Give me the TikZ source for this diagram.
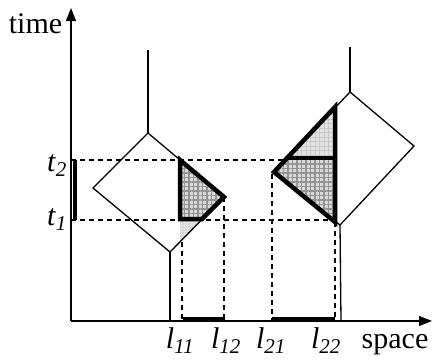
\documentclass[tikz,border=0pt]{standalone}
\usepackage{fontspec}
\setmainfont{Liberation Serif}
\usetikzlibrary{arrows.meta,patterns.meta}

\begin{document}
\begin{tikzpicture}[x=1pt, y=-1pt,
  axis/.style={line width=1.3pt, -{Triangle[length=13pt,width=10pt]}},
  edge/.style={line width=1.3pt},
  guide/.style={line width=1.1pt, dash pattern=on 5pt off 4pt},
  bound/.style={line width=4.5pt, line join=miter},
  bar/.style={line width=4pt},
  dense/.style={preaction={fill=gray!30},
                pattern={Hatch[distance=4.5pt, line width=1.1pt]}, pattern color=gray!85},
  faint/.style={preaction={fill=gray!22},
                pattern={Hatch[distance=4.5pt, line width=0.5pt]}, pattern color=gray!45},
  dotted fill/.style={preaction={fill=gray!20},
                pattern={Dots[distance=3pt, radius=0.6pt]}, pattern color=gray!70},
  lbl/.style={font=\fontsize{30}{36}\selectfont, inner sep=0pt, anchor=base}
]
  \useasboundingbox (0,0) rectangle (433,362);

  % axes
  \coordinate (O) at (71,321);
  \coordinate (ttop) at (71,8);
  \coordinate (sright) at (432,321);

  % first cell
  \coordinate (A1) at (148,133);
  \coordinate (B1) at (224,197);
  \coordinate (C1) at (170,252);
  \coordinate (D1) at (93,188);
  \coordinate (A1up) at (148,50);
  \coordinate (C1down) at (170,321);
  \coordinate (P1) at (180,160);
  \coordinate (Q1) at (202,219);
  \coordinate (R1) at (180,219);
  \coordinate (S1) at (180,242);

  % second cell
  \coordinate (A2) at (350,92);
  \coordinate (B2) at (414,146);
  \coordinate (C2) at (340,225);
  \coordinate (D2) at (274,172);
  \coordinate (A2up) at (350,47);
  \coordinate (C2down) at (341,321);
  \coordinate (P2) at (335,107);
  \coordinate (Q2) at (287,158);
  \coordinate (R2) at (335,158);
  \coordinate (S2) at (335,222);

  % shaded parts
  \fill[dense] (P1) -- (B1) -- (Q1) -- (R1) -- cycle;
  \fill[dotted fill] (R1) -- (Q1) -- (S1) -- cycle;
  \fill[faint] (Q2) -- (P2) -- (R2) -- cycle;
  \fill[dense] (Q2) -- (R2) -- (S2) -- (D2) -- cycle;

  % dashed guides
  \draw[guide] (71,160) -- (284,160);
  \draw[guide] (71,220) -- (337,220);
  \draw[guide] (182,242) -- (182,321);
  \draw[guide] (B1) -- (224,321);
  \draw[guide] (272,174) -- (272,321);
  \draw[guide] (S2) -- (335,321);

  % cells
  \draw[edge] (A1) -- (B1) -- (C1) -- (D1) -- cycle;
  \draw[edge] (A1) -- (A1up);
  \draw[edge] (C1) -- (C1down);
  \draw[edge] (A2) -- (B2) -- (C2) -- (D2) -- cycle;
  \draw[edge] (A2) -- (A2up);
  \draw[edge] (C2) -- (C2down);

  % thick bounds
  \draw[bound] (P1) -- (B1) -- (Q1) -- (R1) -- cycle;
  \draw[bound] (P2) -- (D2) -- (S2) -- cycle;
  \draw[bound] (Q2) -- (R2);

  % axes
  \draw[axis] (O) -- (ttop);
  \draw[axis] (O) -- (sright);
  \draw[bar] (74.5,160) -- (74.5,220);
  \draw[bar] (183,318.5) -- (225,318.5);
  \draw[bar] (272,318.5) -- (335,318.5);

  % labels
  \node[lbl] (time) at (35.5,33) {time};
  \node[lbl] (space) at (395,348) {space};
  \node[lbl] (t2) at (57,171) {\textit{t}\textsubscript{\textit{2}}};
  \node[lbl] (t1) at (57,225) {\textit{t}\textsubscript{\textit{1}}};
  \node[lbl] (l11) at (180,348) {\textit{l}\textsubscript{\textit{11}}};
  \node[lbl] (l12) at (226,348) {\textit{l}\textsubscript{\textit{12}}};
  \node[lbl] (l21) at (271,348) {\textit{l}\textsubscript{\textit{21}}};
  \node[lbl] (l22) at (326,348) {\textit{l}\textsubscript{\textit{22}}};
\end{tikzpicture}
\end{document}
